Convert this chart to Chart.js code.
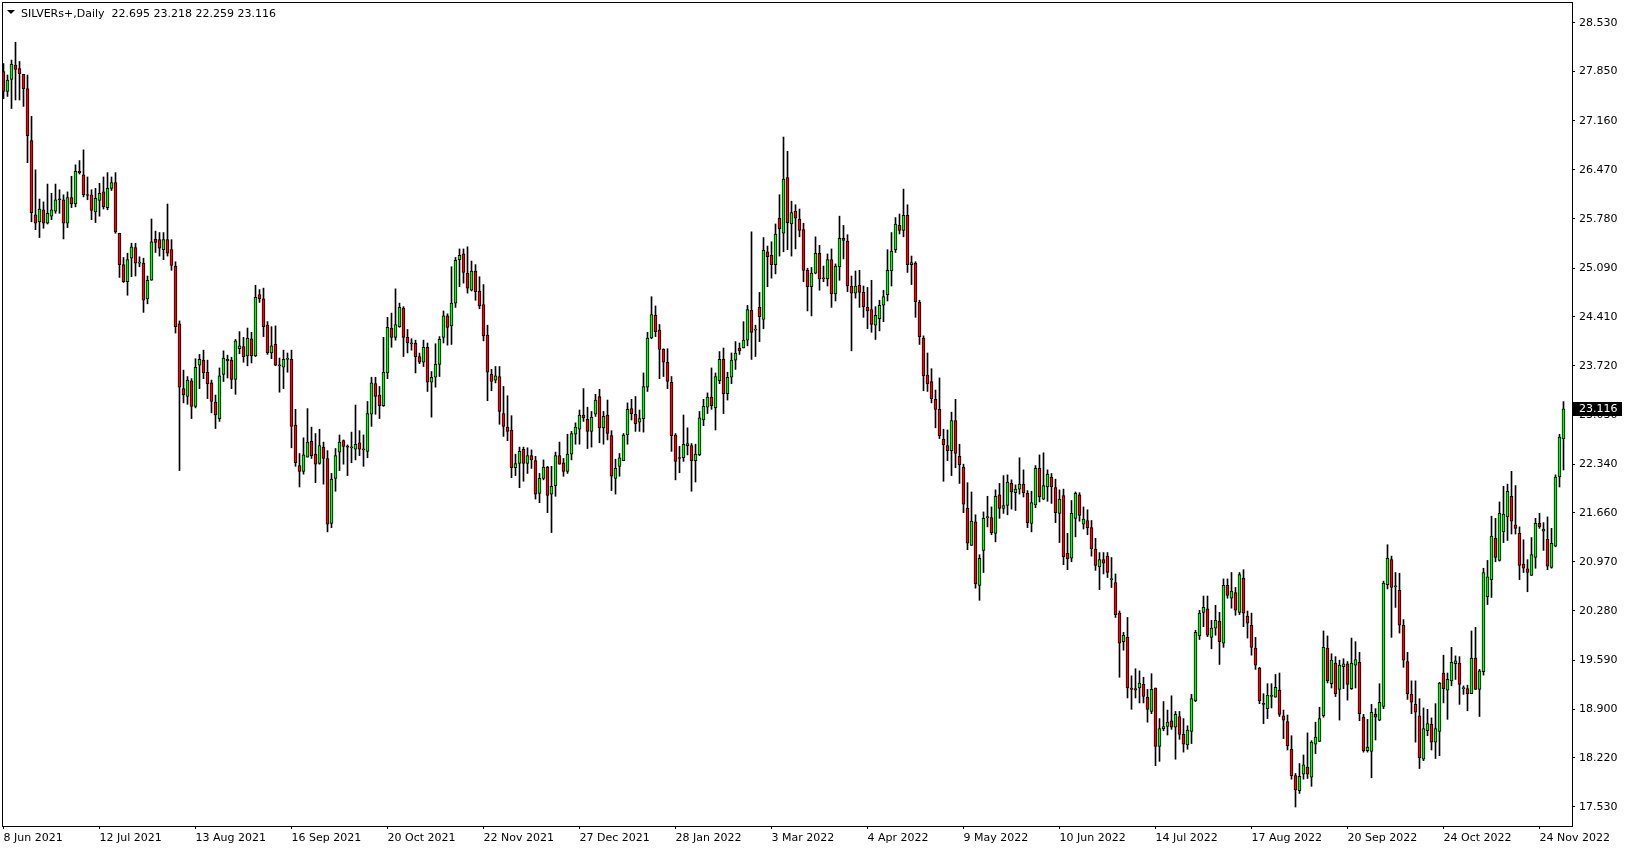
<!DOCTYPE html>
<html>
<head>
<meta charset="utf-8">
<title>SILVERs+,Daily</title>
<script src="https://cdn.jsdelivr.net/npm/chart.js@4.4.1/dist/chart.umd.min.js"></script>
<style>
  html, body { margin: 0; padding: 0; background: #fff; }
  canvas { display: block; }
</style>
</head>
<body>
<canvas id="chart" width="1629" height="850"></canvas>
<script>
const symbolName = "SILVERs+,Daily";

// one date label every 24 daily bars, first bar = 8 Jun 2021
const labelStep = 24;
const tickLabels = [
  "8 Jun 2021", "12 Jul 2021", "13 Aug 2021", "16 Sep 2021", "20 Oct 2021",
  "22 Nov 2021", "27 Dec 2021", "28 Jan 2022", "3 Mar 2022", "4 Apr 2022",
  "9 May 2022", "10 Jun 2022", "14 Jul 2022", "17 Aug 2022", "20 Sep 2022",
  "24 Oct 2022", "24 Nov 2022"
];

const priceTicks = [
  17.53, 18.22, 18.9, 19.59, 20.28, 20.97, 21.66, 22.34, 23.03,
  23.72, 24.41, 25.09, 25.78, 26.47, 27.16, 27.85, 28.53
];

const opens = [
  27.85,27.57,27.74,27.94,27.89,27.81,27.61,26.88,25.84,25.74,
  25.91,25.72,25.82,25.89,26.06,26.05,25.72,26.08,25.99,26.45,
  26.40,26.12,26.12,25.88,26.04,26.16,25.94,26.21,26.29,25.58,
  25.14,24.90,25.23,25.38,25.16,25.16,24.66,24.92,25.50,25.49,
  25.35,25.49,25.35,25.12,24.31,23.40,23.29,23.51,23.15,23.73,
  23.80,23.63,23.48,23.21,22.98,23.60,23.81,23.80,23.53,23.96,
  23.99,23.86,24.10,23.86,24.72,24.66,24.29,23.90,24.02,23.73,
  23.70,23.81,23.81,22.89,22.32,22.24,22.44,22.66,22.48,22.35,
  22.58,22.42,21.51,22.14,22.51,22.67,22.59,22.57,22.55,22.64,
  22.55,22.52,23.04,23.47,23.31,23.16,23.62,24.25,24.12,24.27,
  24.53,24.12,24.03,24.04,23.85,23.77,23.98,23.49,23.56,23.74,
  24.12,24.42,24.28,24.60,25.21,25.29,25.02,24.78,25.05,24.77,
  24.58,24.15,23.60,23.52,23.57,23.05,22.86,22.82,22.29,22.35,
  22.55,22.35,22.46,22.39,21.93,22.14,22.30,21.92,22.04,22.46,
  22.36,22.24,22.48,22.76,22.83,23.03,22.97,22.80,23.04,23.29,
  22.85,23.03,22.74,22.14,22.31,22.39,22.75,23.12,23.04,22.93,
  22.98,23.42,24.11,24.43,24.22,23.95,23.77,23.49,22.75,22.43,
  22.43,22.60,22.60,22.39,22.47,22.96,23.14,23.28,23.13,23.51,
  23.81,23.33,23.56,23.80,23.97,23.97,24.08,24.50,24.22,24.54,
  24.37,25.32,25.27,25.14,25.79,25.58,26.36,25.71,25.89,25.78,
  25.63,25.06,24.83,25.02,25.30,24.95,24.94,25.21,24.73,25.11,
  25.51,25.47,24.84,24.74,24.85,24.75,24.54,24.51,24.29,24.38,
  24.57,24.72,25.05,25.35,25.69,25.62,25.83,25.14,25.16,24.61,
  24.11,23.59,23.50,23.25,23.11,22.69,22.60,22.53,22.95,22.45,
  22.30,21.72,21.20,21.53,20.64,21.13,21.59,21.59,21.37,21.91,
  21.72,21.76,22.07,21.94,21.99,22.06,21.93,21.51,21.77,22.28,
  21.85,22.02,22.16,22.01,21.65,21.90,21.09,21.02,21.58,21.91,
  21.50,21.55,21.45,21.15,20.90,21.00,21.05,20.72,20.68,20.25,
  19.85,19.91,19.20,19.19,19.20,19.25,19.07,18.87,19.20,18.38,
  18.63,18.66,18.74,18.65,18.80,18.55,18.40,18.59,19.02,19.93,
  20.26,20.31,19.91,20.04,20.14,19.83,20.64,20.46,20.54,20.26,
  20.74,20.21,20.08,19.76,19.48,18.98,18.91,19.08,19.07,19.17,
  18.81,18.73,18.34,17.97,17.76,17.99,18.09,17.95,18.41,18.45,
  18.81,19.76,19.26,19.55,19.18,19.50,19.54,19.19,19.52,19.56,
  18.79,18.32,18.31,18.83,18.75,18.94,20.65,21.00,20.62,20.57,
  20.08,19.57,19.11,18.97,18.81,18.20,18.60,18.69,18.44,18.59,
  19.41,19.17,19.30,19.54,19.55,19.19,19.19,19.12,19.62,19.18,
  19.43,20.48,20.72,21.30,20.99,21.39,21.60,21.89,21.49,21.37,
  20.94,20.87,20.78,21.03,21.51,21.40,21.29,20.89,21.19,22.16,
  22.695
];

const highs = [
  27.96,27.80,28.01,28.26,27.99,27.81,27.80,27.22,26.47,26.06,
  26.02,26.27,26.14,26.27,26.19,26.12,26.16,26.38,26.54,26.60,
  26.75,26.37,26.19,26.21,26.28,26.37,26.43,26.37,26.43,25.58,
  25.24,25.30,25.44,25.44,25.25,25.23,24.98,25.78,25.61,25.59,
  25.59,25.99,25.49,25.18,24.35,23.66,23.57,23.54,23.82,23.88,
  23.94,23.80,23.52,23.31,23.69,23.93,23.87,23.84,24.09,24.20,
  24.12,24.25,24.19,24.85,24.79,24.81,24.34,24.27,24.28,23.83,
  23.94,23.90,23.94,23.11,22.49,22.71,23.12,22.86,22.77,22.83,
  22.65,22.53,22.21,22.56,22.75,22.68,22.61,22.79,23.17,22.81,
  22.75,23.22,23.56,23.56,23.43,24.12,24.40,24.46,24.80,24.60,
  24.55,24.23,24.10,24.08,23.90,24.08,24.04,23.64,24.03,24.13,
  24.49,24.45,25.11,25.24,25.36,25.36,25.39,25.19,25.14,24.97,
  24.86,24.29,23.67,23.71,23.71,23.43,23.30,23.02,22.48,22.58,
  22.58,22.57,22.54,22.45,22.21,22.40,22.31,22.31,22.51,22.65,
  22.42,22.76,22.80,22.92,23.10,23.40,23.14,23.08,23.32,23.39,
  23.08,23.24,22.81,22.41,22.49,22.77,23.20,23.25,23.29,23.10,
  23.62,24.19,24.69,24.56,24.30,23.96,23.96,23.57,22.77,22.59,
  23.03,22.85,22.63,22.62,23.08,23.25,23.34,23.69,23.62,23.92,
  23.97,23.63,23.90,24.06,24.04,24.34,24.57,25.60,24.29,24.75,
  25.52,25.40,25.46,25.71,26.12,26.93,26.73,26.03,25.98,25.92,
  25.72,25.09,25.10,25.53,25.41,25.12,25.29,25.36,25.15,25.82,
  25.69,25.56,24.98,25.05,25.06,24.84,24.82,24.92,24.55,24.64,
  24.78,25.35,25.59,25.80,25.85,26.20,25.98,25.26,25.18,24.64,
  24.14,23.90,23.68,23.38,23.55,22.83,22.82,23.07,23.25,22.62,
  22.34,22.08,21.95,21.63,21.07,21.67,21.89,21.74,21.98,22.07,
  22.18,22.19,22.12,22.05,22.43,22.26,21.97,21.96,22.32,22.47,
  22.50,22.26,22.21,22.13,21.98,21.99,21.37,21.83,21.95,21.94,
  21.74,21.70,21.55,21.30,21.10,21.10,21.10,21.03,20.80,20.28,
  19.98,20.19,19.37,19.47,19.44,19.35,19.18,19.40,19.20,18.77,
  19.01,18.89,19.09,18.87,18.87,18.77,18.67,19.11,20.01,20.29,
  20.49,20.49,20.15,20.36,20.26,20.73,20.73,20.82,20.61,20.82,
  20.86,20.28,20.25,19.91,19.49,19.12,19.26,19.26,19.39,19.41,
  18.89,18.82,18.53,18.00,18.14,18.26,18.57,18.46,18.72,18.93,
  20.00,19.93,19.68,19.64,19.59,19.61,19.57,19.90,19.85,19.70,
  18.83,18.76,18.97,18.91,19.26,20.70,21.21,21.05,20.82,20.81,
  20.16,19.70,19.30,19.30,19.05,18.92,18.90,18.78,18.98,19.28,
  19.66,19.41,19.77,19.65,19.64,19.23,19.24,20.00,20.05,19.46,
  20.88,20.99,21.61,21.58,21.81,22.03,22.06,22.24,22.04,21.46,
  21.28,21.00,21.31,21.58,21.65,21.52,21.60,21.44,22.19,22.76,
  23.218
];

const lows = [
  27.47,27.50,27.33,27.45,27.45,27.36,26.57,25.74,25.63,25.52,
  25.65,25.71,25.77,25.86,25.86,25.50,25.66,25.94,25.95,26.41,
  26.09,26.05,25.77,25.73,25.82,25.92,25.91,26.18,25.58,24.96,
  24.89,24.71,24.97,24.98,25.11,24.47,24.59,24.92,25.31,25.26,
  25.21,25.26,25.06,24.18,22.25,23.20,23.18,22.98,23.13,23.40,
  23.54,23.26,23.06,22.84,22.94,23.50,23.55,23.40,23.32,23.89,
  23.77,23.72,23.76,23.85,24.61,24.13,23.88,23.82,23.72,23.35,
  23.40,23.63,22.57,22.31,22.02,22.20,22.44,22.42,22.08,22.34,
  22.06,21.39,21.45,21.96,22.25,22.34,22.18,22.36,22.40,22.46,
  22.31,22.43,22.87,23.04,22.98,23.15,23.54,23.98,24.08,24.26,
  23.85,23.90,23.94,23.62,23.75,23.71,23.36,23.00,23.42,23.57,
  24.04,24.01,24.02,24.54,24.83,24.88,24.74,24.77,24.64,24.52,
  24.07,23.23,23.37,23.48,22.90,22.73,22.67,22.15,22.18,22.01,
  22.10,22.21,22.28,21.85,21.80,22.12,21.66,21.38,21.89,22.34,
  22.17,22.21,22.40,22.62,22.62,22.94,22.56,22.58,23.01,22.64,
  22.62,22.68,21.97,21.92,22.17,22.39,22.62,22.96,22.80,22.80,
  22.79,23.36,24.10,24.13,23.54,23.57,23.40,22.52,22.12,22.22,
  22.38,22.47,21.96,22.09,22.46,22.88,23.05,23.11,22.82,23.47,
  23.05,23.24,23.47,23.67,23.88,23.97,24.00,23.81,23.85,24.06,
  24.24,24.83,24.95,25.01,25.26,25.32,25.35,25.26,25.36,25.53,
  24.90,24.49,24.42,25.01,24.78,24.90,24.84,24.54,24.63,24.92,
  25.22,24.76,23.93,24.67,24.54,24.40,24.24,24.19,24.09,24.21,
  24.34,24.63,24.84,25.31,25.57,25.53,25.03,24.86,24.40,24.02,
  23.37,23.36,23.20,22.85,22.70,22.10,22.39,22.18,22.29,22.07,
  21.66,21.14,21.20,20.60,20.43,20.82,21.46,21.35,21.25,21.58,
  21.65,21.63,21.71,21.69,21.92,21.88,21.45,21.39,21.73,21.81,
  21.84,21.82,21.79,21.52,21.24,20.93,20.86,20.97,21.32,21.54,
  21.43,21.35,21.05,20.85,20.58,20.80,20.75,20.61,20.19,19.35,
  19.73,19.06,18.90,19.06,18.99,18.99,18.72,18.84,18.11,18.17,
  18.60,18.54,18.62,18.20,18.48,18.30,18.34,18.42,19.01,19.88,
  20.06,19.92,19.75,19.94,19.53,19.77,20.46,20.32,20.22,20.23,
  20.06,19.90,19.66,19.46,18.98,18.70,18.77,18.92,19.07,18.80,
  18.49,18.33,17.92,17.53,17.72,17.92,17.93,17.82,18.28,18.45,
  18.79,19.27,19.20,19.08,18.75,19.19,19.03,19.18,19.20,18.74,
  18.30,18.30,17.94,18.47,18.74,18.91,20.59,19.91,20.33,19.97,
  19.49,19.04,18.84,18.44,18.07,18.18,18.53,18.33,18.21,18.25,
  18.99,18.76,19.23,19.32,18.97,19.11,18.88,19.12,19.18,18.80,
  19.38,20.37,20.47,20.97,20.98,21.24,21.27,21.36,21.36,20.72,
  20.82,20.55,20.78,20.88,21.44,21.13,20.86,20.88,21.18,22.02,
  22.259
];

const closes = [
  27.57,27.73,27.95,27.88,27.82,27.61,26.95,25.87,25.72,25.92,
  25.72,25.86,25.91,26.05,26.05,25.72,26.08,25.99,26.45,26.43,
  26.12,26.11,25.90,26.07,26.14,25.95,26.21,26.29,25.60,25.14,
  24.90,25.21,25.39,25.16,25.17,24.64,24.92,25.46,25.45,25.37,
  25.49,25.30,25.13,24.27,23.42,23.31,23.52,23.15,23.70,23.81,
  23.62,23.47,23.22,23.03,23.58,23.83,23.79,23.53,24.07,24.00,
  23.85,24.11,23.86,24.68,24.66,24.27,23.90,24.00,23.73,23.72,
  23.81,23.81,22.87,22.36,22.24,22.47,22.65,22.46,22.34,22.60,
  22.42,21.50,22.13,22.46,22.65,22.59,22.58,22.57,22.62,22.55,
  22.54,23.05,23.48,23.29,23.16,23.63,24.26,24.12,24.30,24.54,
  24.12,24.04,24.03,23.85,23.77,23.98,23.49,23.56,23.74,24.09,
  24.42,24.26,24.60,25.20,25.27,25.03,24.81,25.05,24.76,24.56,
  24.14,23.63,23.50,23.58,23.08,22.87,22.80,22.29,22.35,22.52,
  22.35,22.46,22.40,21.92,22.14,22.30,21.90,22.03,22.46,22.34,
  22.24,22.48,22.77,22.86,23.03,22.99,22.80,23.00,23.24,22.85,
  23.01,22.77,22.17,22.28,22.43,22.75,23.11,23.05,22.91,22.98,
  23.43,24.11,24.44,24.20,23.95,23.77,23.50,22.74,22.38,22.42,
  22.62,22.63,22.39,22.48,22.99,23.15,23.28,23.16,23.57,23.81,
  23.33,23.56,23.80,23.90,23.93,24.08,24.51,24.19,24.22,24.41,
  25.34,25.25,25.14,25.57,25.64,26.34,25.73,25.87,25.79,25.62,
  25.06,24.83,25.02,25.30,24.94,24.94,25.21,24.73,25.12,25.51,
  25.48,24.84,24.74,24.84,24.75,24.55,24.49,24.30,24.43,24.57,
  24.69,25.06,25.33,25.71,25.62,25.83,25.14,25.17,24.62,24.13,
  23.58,23.47,23.26,23.11,22.74,22.61,22.53,22.95,22.49,22.33,
  21.78,21.23,21.54,20.66,21.02,21.58,21.59,21.38,21.89,21.72,
  21.76,22.09,21.95,21.99,22.06,21.94,21.52,21.80,22.28,21.88,
  22.04,22.20,22.02,21.66,21.85,21.04,21.01,21.65,21.93,21.62,
  21.57,21.45,21.15,20.92,21.00,20.95,20.82,20.72,20.23,19.83,
  19.94,19.20,19.18,19.17,19.27,19.08,18.90,19.18,18.38,18.63,
  18.66,18.72,18.65,18.83,18.55,18.41,18.61,19.05,19.98,20.25,
  20.33,19.94,20.04,20.15,19.85,20.64,20.50,20.56,20.29,20.79,
  20.25,20.11,19.77,19.52,19.02,18.97,19.10,19.10,19.21,18.83,
  18.75,18.39,17.97,17.77,17.96,18.12,17.99,18.44,18.51,18.77,
  19.77,19.30,19.59,19.12,19.52,19.54,19.25,19.55,19.60,18.84,
  18.32,18.37,18.86,18.79,19.00,20.67,21.02,20.61,20.62,20.08,
  19.59,19.12,19.00,18.86,18.22,18.63,18.70,18.44,18.63,19.27,
  19.19,19.32,19.56,19.58,19.25,19.19,19.12,19.62,19.18,19.44,
  20.82,20.76,21.33,21.03,21.65,21.64,21.96,21.54,21.44,20.92,
  20.88,20.82,21.07,21.51,21.46,21.43,20.91,21.23,22.16,22.72,
  23.116
];

const upColor = "#00ff00";
const downColor = "#ff0000";
const last = closes.length - 1;

const bodies = opens.map(function (o, i) {
  return { x: i, y: [o, closes[i]] };
});
const wicks = lows.map(function (l, i) {
  return { x: i, y: [l, highs[i]] };
});
const bodyColors = opens.map(function (o, i) {
  return closes[i] >= o ? upColor : downColor;
});

// frame, symbol line and last price tag, drawn like the terminal does
const terminalBits = {
  id: "terminalBits",
  afterDraw: function (chart) {
    const ctx = chart.ctx;
    const a = chart.chartArea;
    ctx.save();
    ctx.strokeStyle = "#000";
    ctx.lineWidth = 1;
    ctx.strokeRect(a.left - 0.5, a.top - 0.5, a.right - a.left + 1, a.bottom - a.top + 1);

    ctx.fillStyle = "#000";
    ctx.beginPath();
    ctx.moveTo(7, 10);
    ctx.lineTo(15, 10);
    ctx.lineTo(11, 14);
    ctx.closePath();
    ctx.fill();

    ctx.font = '11px "DejaVu Sans"';
    ctx.textBaseline = "alphabetic";
    ctx.textAlign = "left";
    const ohlc = [opens[last], highs[last], lows[last], closes[last]]
      .map(function (v) { return v.toFixed(3); }).join(" ");
    ctx.fillText(symbolName + "  " + ohlc, 21, 17);

    const y = Math.round(chart.scales.y.getPixelForValue(closes[last]));
    ctx.fillRect(a.right + 1, y - 7, 49, 14);
    ctx.fillStyle = "#fff";
    ctx.textBaseline = "middle";
    ctx.fillText(closes[last].toFixed(3), 1579, y);
    ctx.restore();
  }
};

function noEdgePadding(scale) {
  scale.paddingTop = 0;
  scale.paddingBottom = 0;
  scale.paddingLeft = 0;
  scale.paddingRight = 0;
}

const ctx = document.querySelector("#chart");
new Chart(ctx, {
  type: "bar",
  data: {
    datasets: [
      {
        label: "body",
        data: bodies,
        backgroundColor: bodyColors,
        borderColor: "#000",
        borderWidth: 1,
        borderSkipped: false,
        barThickness: 3,
        minBarLength: 1,
        grouped: false,
        order: 0,
      },
      {
        label: "wick",
        data: wicks,
        backgroundColor: "#000",
        borderWidth: 0,
        barThickness: 1,
        grouped: false,
        order: 1,
      },
    ],
  },
  options: {
    responsive: false,
    devicePixelRatio: 1,
    animation: false,
    events: [],
    layout: { padding: { left: 3, top: 3, right: 0, bottom: 0 } },
    plugins: {
      legend: { display: false },
      tooltip: { enabled: false },
    },
    scales: {
      x: {
        type: "linear",
        min: -0.125,
        max: 392.125,
        offset: false,
        border: { display: false },
        grid: {
          offset: false,
          drawOnChartArea: false,
          drawTicks: true,
          tickLength: 3,
          color: "#000",
        },
        ticks: {
          autoSkip: false,
          maxRotation: 0,
          align: "start",
          padding: 3,
          color: "#000",
          font: { family: "DejaVu Sans", size: 11 },
          callback: function (value) {
            return tickLabels[Math.round(value / labelStep)] || "";
          },
        },
        afterBuildTicks: function (scale) {
          scale.ticks = tickLabels.map(function (t, k) {
            return { value: k * labelStep };
          });
        },
        afterFit: function (scale) {
          scale.height = 24;
          noEdgePadding(scale);
        },
      },
      y: {
        position: "right",
        min: 17.2634,
        max: 28.8106,
        border: { display: false },
        grid: {
          drawOnChartArea: false,
          drawTicks: true,
          tickLength: 3,
          color: "#000",
        },
        ticks: {
          padding: 4,
          color: "#000",
          font: { family: "DejaVu Sans", size: 11 },
          callback: function (value) {
            return Number(value).toFixed(3);
          },
        },
        afterBuildTicks: function (scale) {
          scale.ticks = priceTicks.map(function (v) {
            return { value: v };
          });
        },
        afterFit: function (scale) {
          scale.width = 57;
          noEdgePadding(scale);
        },
      },
    },
  },
  plugins: [terminalBits],
});
</script>
</body>
</html>
